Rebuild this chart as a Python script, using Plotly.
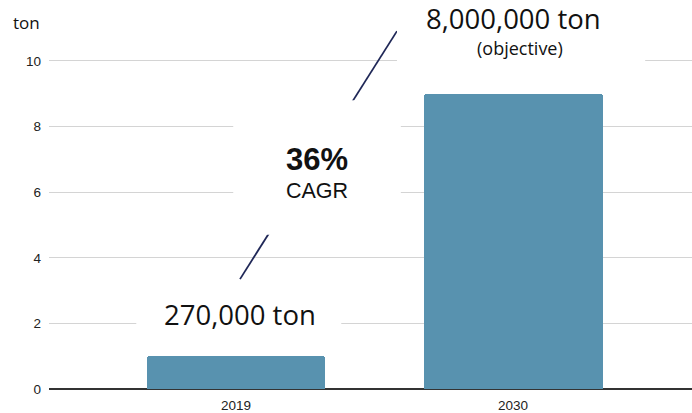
import plotly.graph_objects as go

# Production volume, schematic bars
years = ["2019", "2030"]
volumes = [1, 9]
y_ticks = [0, 2, 4, 6, 8, 10]

bar_color = "#5892af"

fig = go.Figure(
    go.Bar(
        x=years,
        y=volumes,
        width=0.646,
        marker=dict(color=bar_color, cornerradius=3, line=dict(width=0)),
        hoverinfo="skip",
    )
)

# growth arrow (line), partly masked by white label boxes
shapes = [
    dict(type="line", xref="x", yref="y", x0=0.0145, y0=3.35, x1=0.581, y1=10.91,
         line=dict(color="#1f2757", width=1.8), layer="above"),
    # box behind "36% CAGR"
    dict(type="rect", xref="x", yref="y", x0=-0.01, x1=0.595, y0=4.7, y1=8.8,
         fillcolor="white", line=dict(width=0), layer="above"),
    # box behind 2030 label
    dict(type="rect", xref="x", yref="y", x0=0.581, x1=1.477, y0=9.5, y1=11.9,
         fillcolor="white", line=dict(width=0), layer="above"),
    # box behind 2019 label
    dict(type="rect", xref="x", yref="y", x0=-0.36, x1=0.38, y0=1.4, y1=2.7,
         fillcolor="white", line=dict(width=0), layer="above"),
]

label_font = "Open Sans, DejaVu Sans, sans-serif"
sans = "Liberation Sans, Arial, sans-serif"
annotations = [
    dict(x=0.015, y=2.26, xref="x", yref="y", text="270,000 ton", showarrow=False,
         font=dict(family=label_font, size=27.5, color="#111")),
    dict(x=1.0, y=11.28, xref="x", yref="y", text="8,000,000 ton", showarrow=False,
         font=dict(family=label_font, size=27.5, color="#111")),
    dict(x=1.025, y=10.4, xref="x", yref="y", text="(objective)", showarrow=False,
         font=dict(family=label_font, size=18, color="#111")),
    dict(x=0.292, y=7.0, xref="x", yref="y", text="<b>36%</b>", showarrow=False,
         font=dict(family=sans, size=31, color="#111")),
    dict(x=0.292, y=6.05, xref="x", yref="y", text="CAGR", showarrow=False,
         font=dict(family=sans, size=21.5, color="#111")),
    dict(x=0, y=1, xref="paper", yref="paper", xanchor="right", yanchor="bottom",
         xshift=-7, yshift=-19, text="ton", showarrow=False,
         font=dict(family=label_font, size=17, color="#111")),
]

fig.update_layout(
    width=692,
    height=413,
    margin=dict(l=49, r=0, t=17, b=24),
    paper_bgcolor="white",
    plot_bgcolor="white",
    showlegend=False,
    bargap=0,
    shapes=shapes,
    annotations=annotations,
    xaxis=dict(
        type="category",
        range=[-0.675, 1.646],
        showgrid=False,
        showline=False,
        zeroline=False,
        ticks="",
        ticklabelstandoff=6,
        tickfont=dict(family=sans, size=13.5, color="#222"),
        fixedrange=True,
    ),
    yaxis=dict(
        range=[0, 11.34],
        tickvals=y_ticks,
        showgrid=True,
        gridcolor="#d4d4d4",
        gridwidth=1,
        zeroline=True,
        zerolinecolor="#333",
        zerolinewidth=1.5,
        showline=False,
        ticks="",
        ticklabelstandoff=7,
        tickfont=dict(family=sans, size=13.5, color="#222"),
        fixedrange=True,
    ),
)

fig.write_html("out.html")
